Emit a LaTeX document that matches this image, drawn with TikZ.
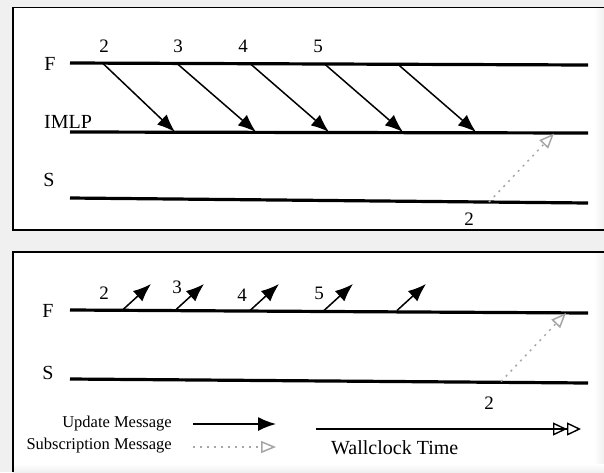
\documentclass[tikz,border=0pt]{standalone}
\usepackage{fontspec}
\setmainfont{Liberation Serif}
\usetikzlibrary{arrows.meta}
\begin{document}
\begin{tikzpicture}[x=1pt,y=-1pt,
 lane/.style={line width=3.2pt},
 upd/.style={line width=1.5pt,-{Latex[length=18pt,width=14pt]}},
 sub/.style={line width=1.5pt,draw=gray!70,dash pattern=on 2pt off 5pt,-{Triangle[open,length=15pt,width=12pt,line width=1.5pt]}},
 lbl/.style={font=\fontsize{20}{22}\selectfont,inner sep=0pt},
 num/.style={font=\fontsize{19}{21}\selectfont,inner sep=0pt},
 leg/.style={font=\fontsize{16.5}{19}\selectfont,inner sep=0pt},
 framel/.style={line width=1.8pt}]
\useasboundingbox (0,0) rectangle (604,472);
\fill[gray!12] (0,0) rectangle (604,472);
% panels
\fill[white] (13,7.5) rectangle (594,230);
\shade[left color=white,right color=gray!12] (594,7.5) rectangle (604,230);
\draw[framel] (604,7.5) -- (13,7.5) -- (13,230) -- (604,230);
\fill[white] (13,252) rectangle (594,466);
\shade[left color=white,right color=gray!12] (594,252) rectangle (604,466);
\shade[top color=white,bottom color=gray!12] (13,464) rectangle (604,472);
\draw[framel] (604,252) -- (13,252) -- (13,472);

% ---------- top panel ----------
\coordinate (tF0) at (70,63);  \coordinate (tF1) at (588,65);
\coordinate (tI0) at (70,132); \coordinate (tI1) at (588,133);
\coordinate (tS0) at (70,198); \coordinate (tS1) at (588,203);
\draw[lane] (tF0) -- (tF1);
\draw[lane] (tI0) -- (tI1);
\draw[lane] (tS0) -- (tS1);
\node[lbl] (tFl) at (50,64) {F};
\node[lbl] (tIl) at (68,122) {IMLP};
\node[lbl] (tSl) at (49,180) {S};
\foreach \i/\a/\b in {1/103/175,2/177/256,3/250/329,4/324/403,5/397/476}{
  \coordinate (ta\i) at (\a,63.5);
  \coordinate (tb\i) at (\b,132);
  \draw[upd] (ta\i) -- (tb\i);
}
\node[num] (tn2) at (104,46) {2};
\node[num] (tn3) at (178,46) {3};
\node[num] (tn4) at (243,46) {4};
\node[num] (tn5) at (318,46) {5};
\coordinate (tsa) at (489,202);
\coordinate (tsb) at (554,133.5);
\draw[sub] (tsa) -- (tsb);
\node[num] (ts2) at (469,219) {2};

% ---------- bottom panel ----------
\coordinate (bF0) at (70,310);  \coordinate (bF1) at (588,313);
\coordinate (bS0) at (70,379);  \coordinate (bS1) at (588,383);
\draw[lane] (bF0) -- (bF1);
\draw[lane] (bS0) -- (bS1);
\node[lbl] (bFl) at (48,311) {F};
\node[lbl] (bSl) at (48,373) {S};
\foreach \i/\a in {1/122,2/175,3/250,4/324,5/397}{
  \coordinate (ba\i) at (\a,310.5);
  \coordinate (bb\i) at (\a+29,284);
  \draw[upd] (ba\i) -- (bb\i);
}
\node[num] (bn2) at (104,293) {2};
\node[num] (bn3) at (177,287) {3};
\node[num] (bn4) at (242,295) {4};
\node[num] (bn5) at (319,293) {5};
\coordinate (bsa) at (501,381.5);
\coordinate (bsb) at (566,313);
\draw[sub] (bsa) -- (bsb);
\node[num] (bs2) at (489,403) {2};

% legend
\node[leg,anchor=east] (lu) at (172,424) {Update Message};
\node[leg,anchor=east] (ls) at (172,446) {Subscription Message};
\coordinate (lua) at (193,424); \coordinate (lub) at (276,424);
\coordinate (lsa) at (193,447); \coordinate (lsb) at (276,447);
\draw[upd] (lua) -- (lub);
\draw[sub] (lsa) -- (lsb);
\coordinate (wa) at (316,429); \coordinate (wb) at (581,429);
\draw[line width=1.4pt,-{Triangle[open,length=14pt,width=13pt,line width=1.4pt] Triangle[open,length=14pt,width=13pt,line width=1.4pt]}] (wa) -- (wb);
\node[lbl,anchor=west] (wt) at (331,448) {Wallclock Time};
\end{tikzpicture}
\end{document}
